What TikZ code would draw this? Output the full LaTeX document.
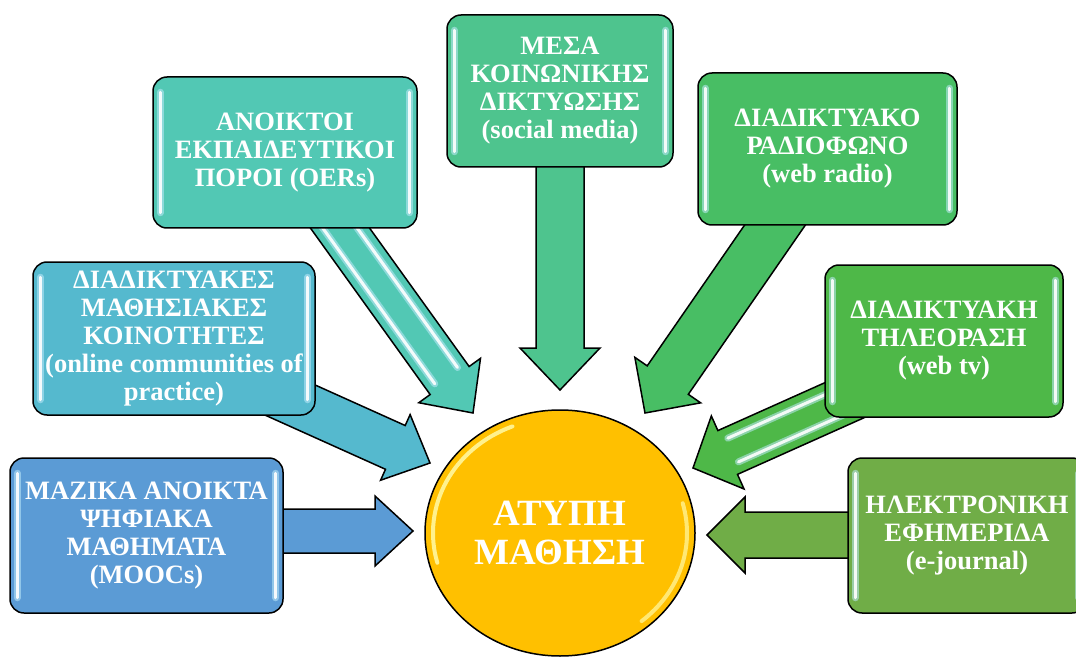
\documentclass[tikz,border=0pt]{standalone}
\usepackage{fontspec}
\setmainfont{Liberation Serif}
\usetikzlibrary{calc,shapes.geometric}
\definecolor{cMooc}{HTML}{5B9BD5}
\definecolor{cComm}{HTML}{55B9CE}
\definecolor{cOer}{HTML}{52C8B4}
\definecolor{cSoc}{HTML}{4EC48E}
\definecolor{cRadio}{HTML}{48BE64}
\definecolor{cTv}{HTML}{4EB848}
\definecolor{cEj}{HTML}{70AD47}
\definecolor{cGold}{HTML}{FFC000}
\tikzset{
  box/.style={draw=black, line width=1.5pt, rounded corners=14pt, text=white,
    font={\fontsize{26.5}{28}\selectfont\bfseries}, align=center, inner sep=0pt},
  barr/.style={draw=black, line width=1.5pt, line join=miter},
  shine/.style={white, line width=3pt, line cap=round, opacity=0.9},
  glow/.style={cyan!25, line width=7pt, line cap=round, opacity=0.55},
}
% block arrow: from, to, colour, shaft half width, head half width, head length
\newcommand\barrow[6]{%
  \filldraw[barr, fill=#3] let \p1=(#1), \p2=(#2), \n1={atan2(\y2-\y1,\x2-\x1)} in
    ($(\p1)+({\n1+90}:#4pt)$) --
    ($(\p2)+({\n1+180}:#6pt)+({\n1+90}:#4pt)$) --
    ($(\p2)+({\n1+180}:#6pt)+({\n1+90}:#5pt)$) --
    (\p2) --
    ($(\p2)+({\n1+180}:#6pt)+({\n1-90}:#5pt)$) --
    ($(\p2)+({\n1+180}:#6pt)+({\n1-90}:#4pt)$) --
    ($(\p1)+({\n1-90}:#4pt)$) -- cycle;
}
% shine stripe on an arrow: from, to, offset, distance from tip
\newcommand\ashine[4]{%
  \draw[glow] let \p1=(#1), \p2=(#2), \n1={atan2(\y2-\y1,\x2-\x1)} in
    ($(\p1)+({\n1+90}:#3pt)$) -- ($(\p2)+({\n1+180}:#4pt)+({\n1+90}:#3pt)$);
  \draw[shine] let \p1=(#1), \p2=(#2), \n1={atan2(\y2-\y1,\x2-\x1)} in
    ($(\p1)+({\n1+90}:#3pt)$) -- ($(\p2)+({\n1+180}:#4pt)+({\n1+90}:#3pt)$);
}
% glossy vertical stripes inside a box
\newcommand\bgloss[1]{%
  \draw[glow] ($(#1.north west)+(8pt,-16pt)$) -- ($(#1.south west)+(8pt,16pt)$);
  \draw[shine] ($(#1.north west)+(8pt,-16pt)$) -- ($(#1.south west)+(8pt,16pt)$);
  \draw[glow] ($(#1.north east)+(-8pt,-16pt)$) -- ($(#1.south east)+(-8pt,16pt)$);
  \draw[shine] ($(#1.north east)+(-8pt,-16pt)$) -- ($(#1.south east)+(-8pt,16pt)$);
}
\begin{document}
\begin{tikzpicture}[x=1pt, y=-1pt]
\clip (0,0) rectangle (1076,663);
\fill[white] (0,0) rectangle (1076,663);
% arrow end points
\coordinate (moocS) at (200,531);  \coordinate (moocT) at (413,531);
\coordinate (commS) at (230,373);  \coordinate (commT) at (430,463);
\coordinate (oerS)  at (327,210);  \coordinate (oerT)  at (473,413);
\coordinate (socS)  at (560,100);  \coordinate (socT)  at (560,390);
\coordinate (radS)  at (793,199);  \coordinate (radT)  at (645,413);
\coordinate (tvS)   at (903,374);  \coordinate (tvT)   at (693,468);
\coordinate (ejS)   at (960,535);  \coordinate (ejT)   at (707,535);
% arrows
\barrow{moocS}{moocT}{cMooc}{22}{35}{38}
\barrow{commS}{commT}{cComm}{24}{36}{38}
\barrow{oerS}{oerT}{cOer}{24}{38}{40}
\ashine{oerS}{oerT}{14}{46}
\ashine{oerS}{oerT}{-14}{46}
\barrow{socS}{socT}{cSoc}{24}{40}{42}
\barrow{radS}{radT}{cRadio}{25}{40}{40}
\barrow{tvS}{tvT}{cTv}{24}{40}{38}
\ashine{tvS}{tvT}{13}{44}
\ashine{tvS}{tvT}{-13}{44}
\barrow{ejS}{ejT}{cEj}{23}{38}{38}
% boxes
\node[box, fill=cMooc, minimum width=273pt, minimum height=155pt] (mooc) at (146.5,535.5)
  {ΜΑΖΙΚΑ ΑΝΟΙΚΤΑ\\ΨΗΦΙΑΚΑ\\ΜΑΘΗΜΑΤΑ\\(MOOCs)};
\node[box, fill=cComm, minimum width=282pt, minimum height=153pt] (comm) at (174,338.5)
  {ΔΙΑΔΙΚΤΥΑΚΕΣ\\ΜΑΘΗΣΙΑΚΕΣ\\ΚΟΙΝΟΤΗΤΕΣ\\(online communities of\\practice)};
\node[box, fill=cOer, minimum width=264pt, minimum height=151pt] (oer) at (285,152.5)
  {ΑΝΟΙΚΤΟΙ\\ΕΚΠΑΙΔΕΥΤΙΚΟΙ\\ΠΟΡΟΙ (OERs)};
\node[box, fill=cSoc, minimum width=226pt, minimum height=152pt] (soc) at (560,91)
  {ΜΕΣΑ\\ΚΟΙΝΩΝΙΚΗΣ\\ΔΙΚΤΥΩΣΗΣ\\(social media)};
\node[box, fill=cRadio, minimum width=259pt, minimum height=152pt] (radio) at (827.5,149)
  {ΔΙΑΔΙΚΤΥΑΚΟ\\ΡΑΔΙΟΦΩΝΟ\\(web radio)};
\node[box, fill=cTv, minimum width=238pt, minimum height=152pt] (tv) at (944,341)
  {ΔΙΑΔΙΚΤΥΑΚΗ\\ΤΗΛΕΟΡΑΣΗ\\(web tv)};
\node[box, fill=cEj, minimum width=238pt, minimum height=155pt] (ej) at (967,535.5)
  {ΗΛΕΚΤΡΟΝΙΚΗ\\ΕΦΗΜΕΡΙΔΑ\\(e-journal)};
\bgloss{mooc}\bgloss{comm}\bgloss{oer}\bgloss{soc}\bgloss{radio}\bgloss{tv}\bgloss{ej}
% centre
\node[ellipse, draw=black, line width=1.5pt, fill=cGold, minimum width=270pt, minimum height=246pt,
  inner sep=0pt, text=white, font={\fontsize{37}{39}\selectfont\bfseries}, align=center] (core) at (560,533)
  {ΑΤΥΠΗ\\ΜΑΘΗΣΗ};
\draw[line width=4pt, yellow!35!white, opacity=0.85, line cap=round]
  ($(core.center)+(195:127pt and 115pt)$) arc[start angle=195, end angle=112, x radius=127pt, y radius=115pt];
\draw[line width=4pt, yellow!35!white, opacity=0.7, line cap=round]
  ($(core.center)+(15:127pt and 115pt)$) arc[start angle=15, end angle=-50, x radius=127pt, y radius=115pt];
\end{tikzpicture}
\end{document}
